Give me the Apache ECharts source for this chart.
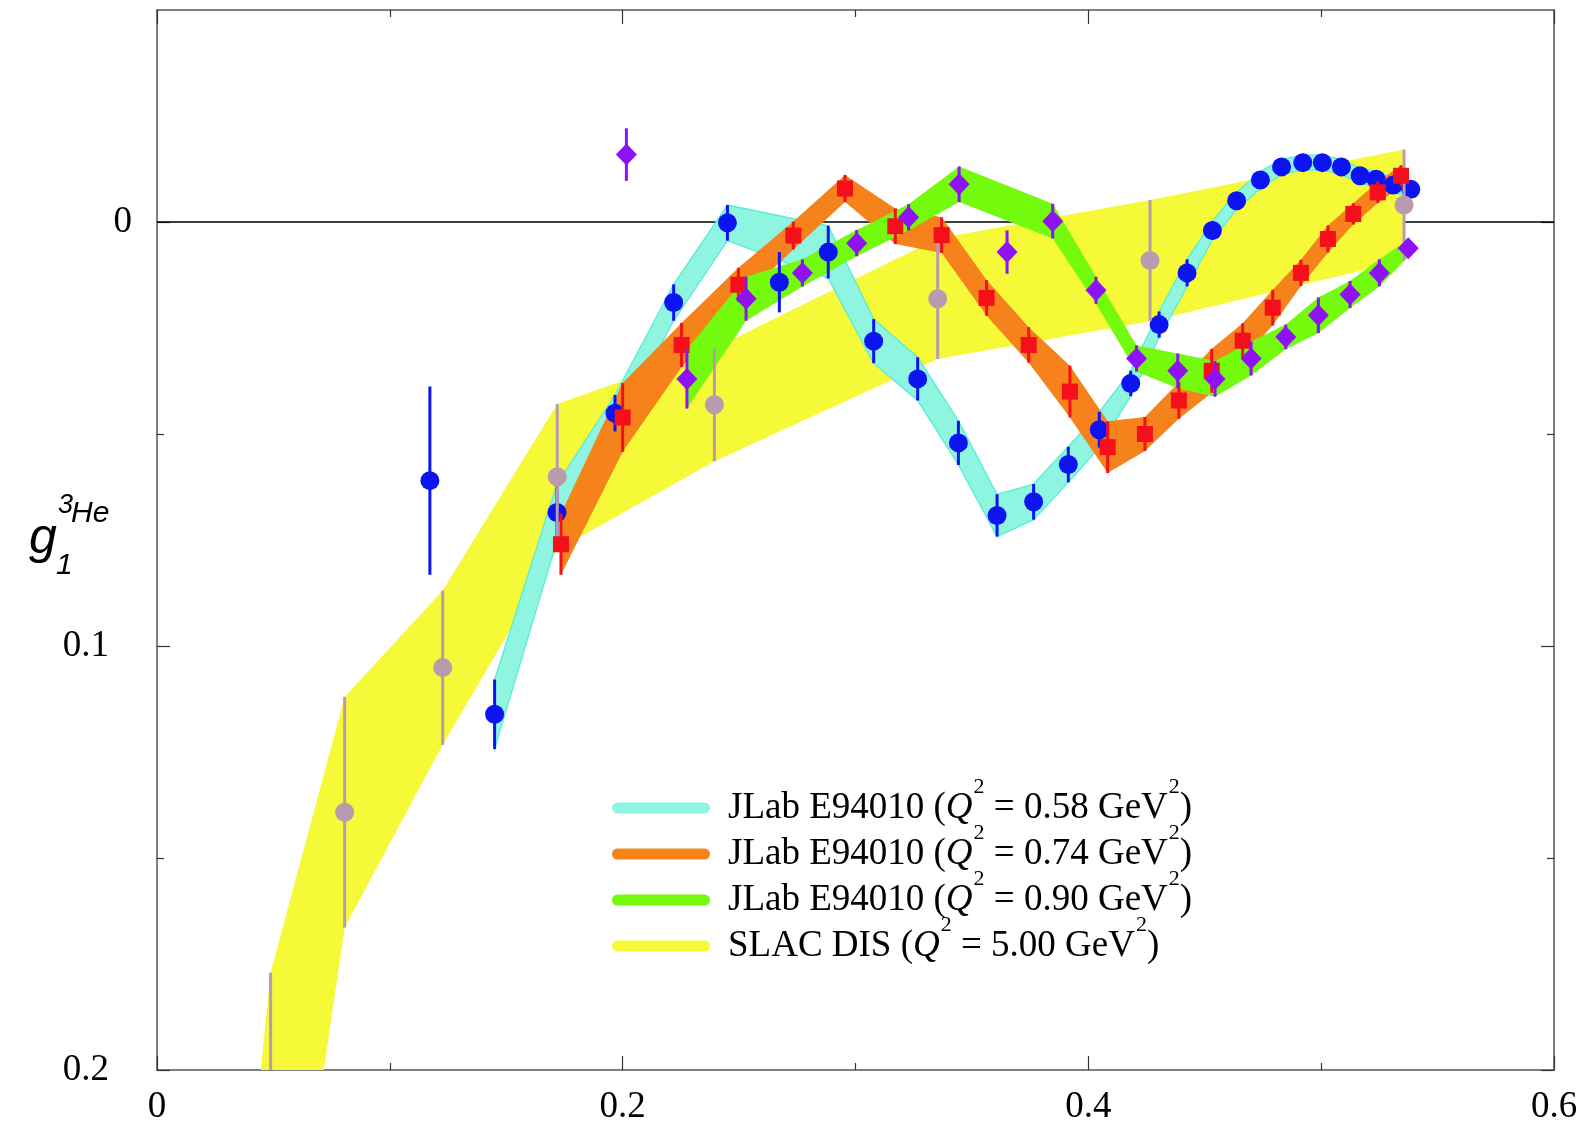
<!DOCTYPE html>
<html><head><meta charset="utf-8">
<script src="https://cdn.jsdelivr.net/npm/echarts@6/dist/echarts.min.js"></script>
<style>html,body{margin:0;padding:0;background:#fff}#c{width:1583px;height:1126px}</style>
</head><body><div id="c"></div>
<script>
// ---- JLab E94010, Q2 = 0.58 GeV2 (blue circles, cyan band)
const blueX   = [0.1172,0.1450,0.1718,0.1967,0.2219,0.2450,0.2673,0.2883,0.3078,0.3267,0.3442,0.3608,0.3765,0.3914,0.4047,0.4182,0.4304,0.4424,0.4533,0.4637,0.4739,0.4830,0.4921,0.5005,0.5087,0.5167,0.5236,0.5310,0.5385];
const blueY   = [0.0610,0.1161,0.0685,0.0451,0.0190,0.0002,0.0142,0.0071,0.0281,0.0370,0.0521,0.0692,0.0660,0.0572,0.0490,0.0381,0.0242,0.0120,0.0020,-0.0050,-0.0099,-0.0130,-0.0140,-0.0140,-0.0130,-0.0109,-0.0101,-0.0087,-0.0077];
const blueErr = [0.0222,0.0082,0.0067,0.0043,0.0043,0.0042,0.0071,0.0062,0.0052,0.0051,0.0052,0.0050,0.0042,0.0042,0.0042,0.0030,0.0031,0.0032,0.0022,0.0020,0.0020,0.0018,0.0018,0.0018,0.0018,0.0018,0.0018,0.0018,0.0018];
const blueInBand = [0,1,1,1,1,1,0,1,1,1,1,1,1,1,1,1,1,1,1,1,1,1,1,1,1,1,1,1,1];

// ---- JLab E94010, Q2 = 0.74 GeV2 (red squares, orange band)
const redX   = [0.1735,0.2000,0.2253,0.2497,0.2733,0.2955,0.3171,0.3370,0.3563,0.3744,0.3921,0.4083,0.4243,0.4389,0.4530,0.4663,0.4792,0.4913,0.5029,0.5138,0.5243,0.5343];
const redY   = [0.0760,0.0461,0.0290,0.0148,0.0032,-0.0079,0.0010,0.0031,0.0179,0.0290,0.0400,0.0531,0.0500,0.0421,0.0351,0.0280,0.0202,0.0120,0.0040,-0.0019,-0.0070,-0.0109];
const redErr = [0.0072,0.0081,0.0052,0.0040,0.0033,0.0032,0.0042,0.0042,0.0042,0.0042,0.0061,0.0061,0.0040,0.0043,0.0052,0.0041,0.0042,0.0031,0.0032,0.0025,0.0025,0.0025];
const redInBand = [1,1,1,1,1,1,1,1,1,1,1,1,1,1,1,1,1,1,1,1,1,1];

// ---- JLab E94010, Q2 = 0.90 GeV2 (purple diamonds, green band)
const purpleX   = [0.2016,0.2276,0.2530,0.2772,0.3005,0.3228,0.3445,0.3651,0.3847,0.4033,0.4207,0.4384,0.4544,0.4699,0.4848,0.4988,0.5124,0.5250,0.5374];
const purpleY   = [-0.0159,0.0370,0.0181,0.0120,0.0050,-0.0011,-0.0089,0.0071,-0.0002,0.0161,0.0322,0.0351,0.0370,0.0322,0.0271,0.0220,0.0171,0.0120,0.0062];
const purpleErr = [0.0062,0.0070,0.0052,0.0032,0.0031,0.0031,0.0042,0.0051,0.0041,0.0032,0.0031,0.0041,0.0042,0.0040,0.0029,0.0042,0.0032,0.0032,0.0020];
const purpleInBand = [0,1,1,1,1,1,1,0,1,1,1,1,1,1,1,1,1,1,1];

// ---- SLAC DIS, Q2 = 5.00 GeV2 (mauve circles, yellow band)
const slacX   = [0.0350,0.0488,0.0806,0.1227,0.1719,0.2394,0.3353,0.4265,0.5356];
const slacY   = [0.3000,0.2315,0.1392,0.1051,0.0601,0.0431,0.0181,0.0091,-0.0040];
const slacErr = [0.0480,0.0545,0.0272,0.0182,0.0172,0.0133,0.0142,0.0143,0.0131];
const slacInBand = [1,1,1,1,1,1,1,1,1];

// ---- axes / labels
const xTickLabels = [0, 0.2, 0.4, 0.6];
const yMajor = [0, 0.1, 0.2];
const yMinor = [0.05, 0.15];
const legendNames = [
  'JLab E94010 (Q2 = 0.58 GeV2)',
  'JLab E94010 (Q2 = 0.74 GeV2)',
  'JLab E94010 (Q2 = 0.90 GeV2)',
  'SLAC DIS (Q2 = 5.00 GeV2)'
];
const legendRich = [
  '{a|JLab E94010 (}{q|Q}{s|2}{t| = 0.58 GeV}{s|2}{t|)}',
  '{a|JLab E94010 (}{q|Q}{s|2}{t| = 0.74 GeV}{s|2}{t|)}',
  '{a|JLab E94010 (}{q|Q}{s|2}{t| = 0.90 GeV}{s|2}{t|)}',
  '{a|SLAC DIS (}{q|Q}{s|2}{t| = 5.00 GeV}{s|2}{t|)}'
];

const SERIF = '"Liberation Serif","Times New Roman",serif';
const SANS = '"Liberation Sans",Arial,sans-serif';

function bandSeries(name, xs, ys, es, flags, fill, stroke, z) {
  return {
    type: 'custom', name: name, z: z, clip: true, silent: true,
    itemStyle: { color: fill },
    data: [[xs[0], ys[0]]],
    renderItem: function (params, api) {
      const top = [], bot = [];
      for (let i = 0; i < xs.length; i++) {
        if (!flags[i]) continue;
        top.push(api.coord([xs[i], ys[i] - es[i]]));
        bot.push(api.coord([xs[i], ys[i] + es[i]]));
      }
      const pts = top.concat(bot.reverse());
      return { type: 'polygon', shape: { points: pts },
        style: { fill: fill, stroke: stroke || fill, lineWidth: stroke ? 1.2 : 0 } };
    }
  };
}
function errSeries(name, xs, ys, es, color, z) {
  return {
    type: 'custom', name: name, z: z, clip: true, silent: true,
    data: xs.map((x, i) => [x, ys[i], es[i]]),
    renderItem: function (params, api) {
      const x = api.value(0), y = api.value(1), e = api.value(2);
      const a = api.coord([x, y - e]), b = api.coord([x, y + e]);
      return { type: 'line', shape: { x1: a[0], y1: a[1], x2: b[0], y2: b[1] },
        style: { stroke: color, lineWidth: 3 } };
    }
  };
}
function ptSeries(name, xs, ys, symbol, size, color, z) {
  return {
    type: 'scatter', name: name, z: z, silent: true, symbol: symbol, symbolSize: size,
    itemStyle: { color: color, opacity: 1 },
    data: xs.map((x, i) => [x, ys[i]])
  };
}

const C_BLUE = '#0c14f2', C_RED = '#f50f1c', C_PURPLE = '#8e12f5', C_MAUVE = '#b99aaf';
const C_CYAN = '#8ff5e0', C_ORANGE = '#f5821a', C_GREEN = '#73fa0c', C_YELLOW = '#f5f938';

const tickStyle = { color: '#333', width: 1.2 };
const lineStyleAx = { color: '#555', width: 1.5 };

function xAx(pos, showLabel) {
  return {
    type: 'value', min: 0, max: 0.6, interval: 0.2, position: pos,
    axisLine: { show: true, onZero: false, lineStyle: lineStyleAx },
    axisTick: { show: true, inside: true, length: 14, lineStyle: tickStyle },
    minorTick: { show: true, splitNumber: 2, length: 7, lineStyle: tickStyle },
    splitLine: { show: false }, minorSplitLine: { show: false },
    axisLabel: { show: showLabel, margin: 19, color: '#000', fontFamily: SERIF, fontSize: 37,
      formatter: v => { const r = Math.round(v * 10) / 10; return xTickLabels.indexOf(r) >= 0 ? String(r) : ''; } }
  };
}
function yAx(pos, vals, len, showLine, showLabel) {
  return {
    type: 'value', min: -0.05, max: 0.2, inverse: true, position: pos,
    axisLine: { show: showLine, onZero: false, lineStyle: lineStyleAx },
    axisTick: { show: true, inside: true, length: len, customValues: vals, lineStyle: tickStyle },
    splitLine: { show: false },
    axisLabel: { show: showLabel, customValues: vals, margin: 25, color: '#000',
      fontFamily: SERIF, fontSize: 37,
      formatter: v => { const r = Math.round(v * 10) / 10; return r === 0 ? '0' : '{p|' + r + '}'; },
      rich: { p: { fontFamily: SERIF, fontSize: 37, color: '#000', padding: [0, 23, 0, 0] } } }
  };
}

const LH = 64;
const chart = echarts.init(document.getElementById('c'), null, { renderer: 'canvas' });
chart.setOption({
  animation: false,
  backgroundColor: '#fff',
  grid: { left: 157, top: 10, right: 29, bottom: 51, containLabel: false },
  xAxis: [xAx('bottom', true), xAx('top', false)],
  yAxis: [
    yAx('left', yMajor, 13, true, true),
    yAx('left', yMinor, 7, false, false),
    yAx('right', yMajor, 13, true, false),
    yAx('right', yMinor, 7, false, false)
  ],
  legend: {
    show: true, orient: 'vertical', left: 612, top: 808 - LH / 2, itemGap: 46 - LH,
    itemWidth: 98, itemHeight: 11, selectedMode: false, padding: 0,
    icon: 'path://M5.5,0 L92.5,0 A5.5,5.5 0 0 1 92.5,11 L5.5,11 A5.5,5.5 0 0 1 5.5,0 Z',
    data: legendNames,
    formatter: name => legendRich[legendNames.indexOf(name)],
    textStyle: {
      fontFamily: SERIF, fontSize: 37, color: '#000', lineHeight: LH,
      rich: {
        a: { fontFamily: SERIF, fontSize: 37, color: '#000', lineHeight: LH, verticalAlign: 'middle', padding: [0, 0, 0, 13] },
        t: { fontFamily: SERIF, fontSize: 37, color: '#000', lineHeight: LH, verticalAlign: 'middle' },
        q: { fontFamily: SERIF, fontSize: 37, color: '#000', lineHeight: LH, verticalAlign: 'middle', fontStyle: 'italic' },
        s: { fontFamily: SERIF, fontSize: 22, color: '#000', lineHeight: 22, verticalAlign: 'top', padding: [0, 0, 0, 1] }
      }
    }
  },
  graphic: [
    { type: 'text', x: 29, y: 539, style: { text: 'g', font: 'italic 50px ' + SANS, fill: '#000', verticalAlign: 'middle' } },
    { type: 'text', x: 56, y: 566, style: { text: '1', font: 'italic 30px ' + SANS, fill: '#000', verticalAlign: 'middle' } },
    { type: 'text', x: 58, y: 505, style: { text: '3', font: 'italic 27px ' + SANS, fill: '#000', verticalAlign: 'middle' } },
    { type: 'text', x: 71, y: 514, style: { text: 'He', font: 'italic 30px ' + SANS, fill: '#000', verticalAlign: 'middle' } }
  ],
  series: [
    { type: 'line', name: 'zero', data: [[0, 0], [0.6, 0]], symbol: 'none', silent: true, z: 1,
      lineStyle: { color: '#000', width: 1.5 } },
    bandSeries(legendNames[3], slacX, slacY, slacErr, slacInBand, C_YELLOW, null, 2),
    bandSeries(legendNames[0], blueX, blueY, blueErr, blueInBand, C_CYAN, '#52ecd8', 3),
    bandSeries(legendNames[1], redX, redY, redErr, redInBand, C_ORANGE, null, 4),
    bandSeries(legendNames[2], purpleX, purpleY, purpleErr, purpleInBand, C_GREEN, null, 5),
    errSeries('e058', blueX, blueY, blueErr, C_BLUE, 6),
    ptSeries('p058', blueX, blueY, 'circle', 19, C_BLUE, 7),
    errSeries('e500', slacX, slacY, slacErr, C_MAUVE, 8),
    ptSeries('p500', slacX, slacY, 'circle', 19, C_MAUVE, 9),
    errSeries('e074', redX, redY, redErr, C_RED, 10),
    ptSeries('p074', redX, redY, 'rect', 16, C_RED, 11),
    errSeries('e090', purpleX, purpleY, purpleErr, C_PURPLE, 12),
    ptSeries('p090', purpleX, purpleY, 'diamond', [21, 22], C_PURPLE, 13)
  ]
});
</script>
</body></html>
